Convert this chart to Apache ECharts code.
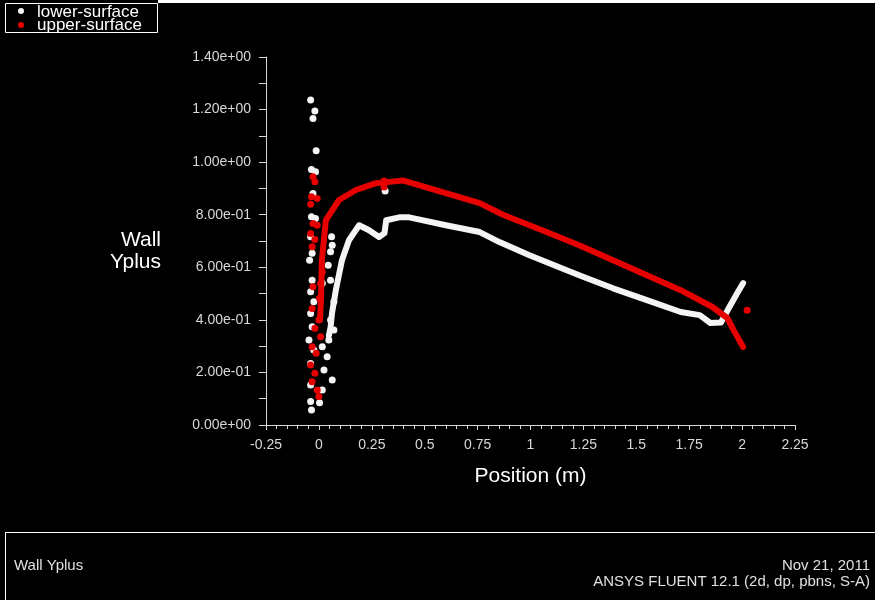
<!DOCTYPE html>
<html>
<head>
<meta charset="utf-8">
<script src="https://cdn.jsdelivr.net/npm/echarts@6/dist/echarts.min.js"></script>
<style>
  html, body { margin: 0; padding: 0; background: #000; }
  #chart { width: 875px; height: 600px; }
</style>
</head>
<body>
<div id="chart"></div>
<script>
// x ticks / y ticks
var xTicks = [-0.25, 0, 0.25, 0.5, 0.75, 1, 1.25, 1.5, 1.75, 2, 2.25];
var yTicks = [0, 0.2, 0.4, 0.6, 0.8, 1.0, 1.2, 1.4];

// lower-surface: continuous trace along the wall
var lowerCurve = [
  [0.047, 0.34], [0.055, 0.37], [0.062, 0.426], [0.071, 0.47], [0.08, 0.513],
  [0.109, 0.627], [0.142, 0.703], [0.19, 0.76], [0.237, 0.741], [0.284, 0.715],
  [0.31, 0.73], [0.318, 0.779], [0.38, 0.79], [0.427, 0.79], [0.60, 0.76],
  [0.76, 0.734], [0.853, 0.696], [0.995, 0.646], [1.23, 0.57], [1.39, 0.52],
  [1.55, 0.475], [1.71, 0.43], [1.80, 0.418], [1.85, 0.388], [1.90, 0.39],
  [1.94, 0.449], [1.976, 0.50], [2.005, 0.54]
];
// lower-surface: scattered cells near the leading edge
var lowerScatter = [
  [-0.039, 1.236], [-0.019, 1.195], [-0.028, 1.166], [-0.013, 1.043], [-0.035, 0.972],
  [-0.016, 0.963], [-0.028, 0.881], [-0.035, 0.792], [-0.016, 0.786], [-0.039, 0.716],
  [0.06, 0.716], [0.063, 0.684], [-0.032, 0.653], [0.055, 0.659], [-0.044, 0.627],
  [0.044, 0.608], [-0.032, 0.551], [0.055, 0.551], [-0.039, 0.507], [0.016, 0.539],
  [-0.024, 0.469], [0.071, 0.469], [-0.039, 0.424], [0.055, 0.399], [-0.032, 0.374],
  [0.071, 0.361], [-0.047, 0.323], [0.047, 0.323], [0.016, 0.298], [-0.024, 0.285],
  [0.039, 0.26], [-0.039, 0.234], [0.024, 0.209], [0.063, 0.171], [-0.039, 0.152],
  [0.016, 0.133], [-0.039, 0.089], [0.003, 0.085], [-0.035, 0.057], [0.313, 0.89]
];
// upper-surface: continuous trace
var upperCurve = [
  [0.005, 0.40], [0.01, 0.475], [0.014, 0.627], [0.033, 0.779], [0.095, 0.856],
  [0.175, 0.894], [0.27, 0.92], [0.32, 0.924], [0.40, 0.93], [0.60, 0.882],
  [0.76, 0.844], [0.87, 0.80], [1.076, 0.734], [1.23, 0.684], [1.39, 0.627],
  [1.55, 0.57], [1.71, 0.513], [1.86, 0.449], [1.93, 0.407], [1.96, 0.361],
  [2.005, 0.297]
];
// upper-surface: scattered cells
var upperScatter = [
  [-0.028, 0.944], [-0.019, 0.925], [-0.035, 0.868], [-0.008, 0.862], [-0.039, 0.84],
  [-0.028, 0.767], [-0.008, 0.76], [-0.039, 0.729], [-0.019, 0.706], [-0.032, 0.678],
  [0.016, 0.583], [0.008, 0.539], [-0.028, 0.526], [0.003, 0.482], [-0.032, 0.443],
  [0, 0.399], [-0.019, 0.368], [0.008, 0.336], [-0.032, 0.298], [-0.013, 0.273],
  [-0.039, 0.228], [-0.019, 0.197], [-0.032, 0.165], [-0.008, 0.133], [0, 0.108],
  [0.308, 0.928], [0.308, 0.905], [2.024, 0.437]
];

var white = "#f4f4f4";
var red = "#e60000";
var font = "Liberation Sans, Arial, sans-serif";

function fmt(v) {
  var s = v.toExponential(2).split("e");
  var e = parseInt(s[1], 10);
  return s[0] + "e" + (e < 0 ? "-" : "+") + (Math.abs(e) < 10 ? "0" : "") + Math.abs(e);
}

var myChart = echarts.init(document.getElementById("chart"));
var option = {
  backgroundColor: "#000",
  animation: false,
  grid: { left: 266, right: 80, top: 57, bottom: 175 },
  xAxis: {
    type: "value",
    min: xTicks[0],
    max: xTicks[xTicks.length - 1],
    interval: 0.25,
    name: "Position (m)",
    nameLocation: "middle",
    nameGap: 41,
    nameTextStyle: { color: "#fff", fontSize: 21, fontFamily: font },
    axisLine: { onZero: false, lineStyle: { color: "#d8d8d8", width: 1 } },
    axisTick: { show: true, length: 5, lineStyle: { color: "#d8d8d8" } },
    minorTick: { show: true, splitNumber: 5, length: 4, lineStyle: { color: "#d8d8d8" } },
    axisLabel: { color: "#d8d8d8", fontSize: 14, fontFamily: font, margin: 13 },
    splitLine: { show: false }
  },
  yAxis: {
    type: "value",
    min: yTicks[0],
    max: yTicks[yTicks.length - 1],
    interval: 0.2,
    axisLine: { show: true, onZero: false, lineStyle: { color: "#d8d8d8", width: 1 } },
    axisTick: { show: true, length: 7, lineStyle: { color: "#d8d8d8" } },
    minorTick: { show: true, splitNumber: 2, length: 7, lineStyle: { color: "#d8d8d8" } },
    axisLabel: { color: "#d8d8d8", fontSize: 14, fontFamily: font, margin: 15, formatter: fmt },
    splitLine: { show: false }
  },
  graphic: [
    // frame bits
    { type: "rect", left: 158, top: 0, shape: { width: 717, height: 3 }, style: { fill: "#fff" } },
    { type: "line", shape: { x1: 5, y1: 532.5, x2: 875, y2: 532.5 }, style: { stroke: "#fff", lineWidth: 1 } },
    { type: "line", shape: { x1: 5.5, y1: 532, x2: 5.5, y2: 600 }, style: { stroke: "#fff", lineWidth: 1 } },
    // legend
    { type: "rect", shape: { x: 5.5, y: 3.5, width: 152, height: 29 }, style: { fill: "#000", stroke: "#fff", lineWidth: 1 } },
    { type: "circle", shape: { cx: 21, cy: 11, r: 3 }, style: { fill: white } },
    { type: "circle", shape: { cx: 21, cy: 25, r: 3 }, style: { fill: red } },
    { type: "text", x: 37, y: 12, style: { text: "lower-surface", fill: "#fff", font: "17px " + font, textVerticalAlign: "middle" } },
    { type: "text", x: 37, y: 25, style: { text: "upper-surface", fill: "#fff", font: "17px " + font, textVerticalAlign: "middle" } },
    // y axis title
    { type: "text", x: 161, y: 240, style: { text: "Wall", fill: "#fff", font: "21px " + font, textAlign: "right", textVerticalAlign: "middle" } },
    { type: "text", x: 161, y: 262, style: { text: "Yplus", fill: "#fff", font: "21px " + font, textAlign: "right", textVerticalAlign: "middle" } },
    // footer
    { type: "text", x: 14, y: 566, style: { text: "Wall Yplus", fill: "#e0e0e0", font: "15px " + font, textVerticalAlign: "middle" } },
    { type: "text", x: 870, y: 566, style: { text: "Nov 21, 2011", fill: "#e0e0e0", font: "15px " + font, textAlign: "right", textVerticalAlign: "middle" } },
    { type: "text", x: 870, y: 582, style: { text: "ANSYS FLUENT 12.1 (2d, dp, pbns, S-A)", fill: "#e0e0e0", font: "15px " + font, textAlign: "right", textVerticalAlign: "middle" } }
  ],
  series: [
    {
      name: "lower-surface", type: "line", data: lowerCurve, showSymbol: false,
      lineStyle: { color: white, width: 6, cap: "round", join: "round" }, z: 2
    },
    {
      name: "lower-surface", type: "scatter", data: lowerScatter, symbolSize: 7,
      itemStyle: { color: white, opacity: 1 }, z: 2
    },
    {
      name: "upper-surface", type: "line", data: upperCurve, showSymbol: false,
      lineStyle: { color: red, width: 6, cap: "round", join: "round" }, z: 3
    },
    {
      name: "upper-surface", type: "scatter", data: upperScatter, symbolSize: 7,
      itemStyle: { color: red, opacity: 1 }, z: 3
    }
  ]
};
myChart.setOption(option);
</script>
</body>
</html>
